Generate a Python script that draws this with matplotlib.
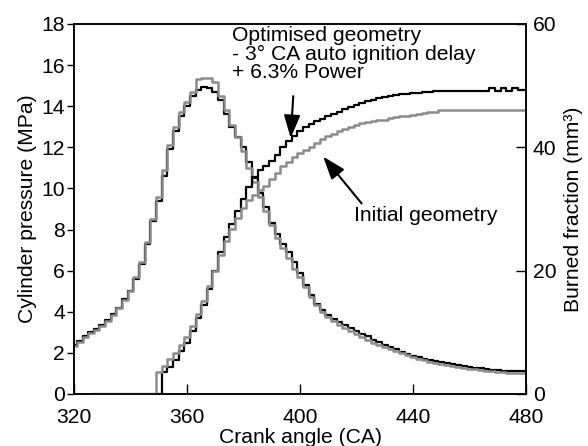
import numpy as np
import matplotlib
matplotlib.use('Agg')
import matplotlib.pyplot as plt

plt.rcParams['font.family'] = ['Liberation Sans', 'DejaVu Sans']

# crank angle samples (deg CA)
crank = [320, 322, 324, 326, 328, 330, 332, 334, 336, 338,
         340, 342, 344, 346, 348, 350, 352, 354, 356, 358,
         360, 362, 364, 366, 368, 370, 372, 374, 376, 378,
         380, 382, 384, 386, 388, 390, 392, 394, 396, 398,
         400, 402, 404, 406, 408, 410, 412, 414, 416, 418,
         420, 422, 424, 426, 428, 430, 432, 434, 436, 438,
         440, 442, 444, 446, 448, 450, 452, 454, 456, 458,
         460, 462, 464, 466, 468, 470, 472, 474, 476, 478, 480]

# cylinder pressure (MPa), optimised geometry
p_opt = [2.38, 2.6, 2.8, 3.0, 3.15, 3.35, 3.6, 3.9, 4.2, 4.6,
         5.0, 5.6, 6.3, 7.3, 8.4, 9.4, 10.6, 11.9, 12.8, 13.5,
         14.0, 14.5, 14.8, 14.95, 14.9, 14.7, 14.3, 13.6, 13.0, 12.5,
         12.0, 11.3, 10.5, 9.8, 9.1, 8.3, 7.8, 7.3, 6.9, 6.4,
         5.9, 5.3, 4.8, 4.4, 4.1, 3.85, 3.65, 3.5, 3.35, 3.2,
         3.05, 2.9, 2.8, 2.65, 2.55, 2.4, 2.3, 2.2, 2.05, 1.95,
         1.85, 1.8, 1.7, 1.65, 1.6, 1.55, 1.5, 1.45, 1.4, 1.35,
         1.3, 1.28, 1.25, 1.2, 1.18, 1.15, 1.12, 1.1, 1.1, 1.1, 1.1]

# cylinder pressure (MPa), initial geometry
p_init = [2.35, 2.55, 2.75, 2.95, 3.1, 3.3, 3.55, 3.85, 4.2, 4.55,
          5.0, 5.7, 6.4, 7.4, 8.5, 9.6, 10.9, 12.1, 13.0, 13.7,
          14.2, 14.7, 15.3, 15.35, 15.35, 15.2, 14.5, 13.8, 13.1, 12.5,
          11.8, 11.0, 10.3, 9.6, 8.9, 8.2, 7.6, 7.1, 6.6, 6.1,
          5.7, 5.2, 4.7, 4.35, 4.0, 3.75, 3.55, 3.35, 3.2, 3.05,
          2.9, 2.75, 2.65, 2.5, 2.4, 2.3, 2.2, 2.1, 2.0, 1.9,
          1.8, 1.72, 1.65, 1.58, 1.52, 1.47, 1.42, 1.38, 1.33, 1.28,
          1.24, 1.2, 1.17, 1.14, 1.1, 1.08, 1.06, 1.04, 1.02, 1.0, 1.0]

nan = np.nan
# burned fraction (mm3), optimised geometry
b_opt = [nan, nan, nan, nan, 0, 0, 0, 0, 0, 0,
         0, 0, 0, 0, 0, 0, 3.6, 4.3, 5.5, 7.0,
         8.3, 10.2, 12.3, 14.4, 17.0, 20.0, 23.0, 25.5, 27.6, 29.6,
         31.6, 33.6, 35.2, 36.3, 36.9, 37.8, 38.8, 40.0, 41.0, 41.8,
         42.6, 43.3, 43.8, 44.2, 44.6, 45.0, 45.4, 45.8, 46.2, 46.6,
         46.9, 47.2, 47.5, 47.7, 48.0, 48.2, 48.3, 48.5, 48.6, 48.7,
         48.8, 48.8, 48.9, 49.0, 49.1, 49.1, 49.1, 49.2, 49.2, 49.2,
         49.2, 49.2, 49.2, 49.2, 49.6, 49.2, 49.6, 49.2, 49.6, 49.3, 49.3]

# burned fraction (mm3), initial geometry
b_init = [nan, nan, nan, nan, 0, 0, 0, 0, 0, 0,
          0, 0, 0, 0, 0, 3.5, 4.6, 5.6, 6.6, 7.9,
          9.3, 11.0, 13.0, 15.0, 17.5, 20.0, 22.5, 24.8, 26.8, 28.6,
          30.2, 31.4, 32.3, 33.0, 33.8, 34.8, 35.9, 36.9, 37.7, 38.4,
          39.0, 39.6, 40.1, 40.7, 41.3, 41.8, 42.2, 42.6, 43.0, 43.3,
          43.6, 43.9, 44.1, 44.3, 44.4, 44.5, 44.7, 44.9, 45.0, 45.1,
          45.2, 45.4, 45.6, 45.7, 45.8, 46.0, 46.0, 46.0, 46.0, 46.0,
          46.0, 46.0, 46.0, 46.0, 46.0, 46.0, 46.0, 46.0, 46.0, 46.0, 46.0]

grey = '#8c8c8c'
fs = 15.2

fig = plt.figure(figsize=(5.88, 4.46), dpi=100)
ax = fig.add_axes([0.1259, 0.1166, 0.7687, 0.8296])
ax2 = ax.twinx()

ax.plot(crank, p_opt, color='k', lw=1.6, drawstyle='steps-mid')
ax.plot(crank, p_init, color=grey, lw=1.8, drawstyle='steps-mid')
ax2.plot(crank, b_opt, color='k', lw=1.6, drawstyle='steps-mid')
ax2.plot(crank, b_init, color=grey, lw=1.8, drawstyle='steps-mid')

ax.set_xlim(320, 480)
ax.set_ylim(0, 18)
ax2.set_ylim(0, 60)
ax.set_xticks([320, 360, 400, 440, 480])
ax.set_yticks(range(0, 19, 2))
ax2.set_yticks([0, 20, 40, 60])

ax.tick_params(axis='x', direction='in', length=7, width=1, labelsize=fs, pad=10)
ax.tick_params(axis='y', direction='out', length=5, width=1, labelsize=fs, pad=1.5)
ax2.tick_params(axis='y', direction='in', length=7, width=1, labelsize=fs, pad=5)
for a in (ax, ax2):
    for s in a.spines.values():
        s.set_linewidth(1.1)

ax.set_xlabel('Crank angle (CA)', fontsize=fs, labelpad=1)
ax.set_ylabel('Cylinder pressure (MPa)', fontsize=fs, labelpad=3)
ax2.set_ylabel('Burned fraction (mm³)', fontsize=fs, labelpad=5)

ax2.text(375.8, 59.6, 'Optimised geometry\n- 3° CA auto ignition delay\n+ 6.3% Power',
         fontsize=fs, va='top', ha='left', linespacing=0.95)
ax2.text(444.5, 29.0, 'Initial geometry', fontsize=fs, va='center', ha='center')

arrow = dict(arrowstyle='-|>,head_length=0.7,head_width=0.25', color='k', lw=1.5,
             mutation_scale=20, shrinkA=0, shrinkB=0)
ax2.annotate('', xy=(396.7, 41.5), xytext=(397.6, 48.3), arrowprops=arrow)
ax2.annotate('', xy=(408.2, 38.5), xytext=(421.8, 30.9), arrowprops=arrow)

fig.savefig('out.png', dpi=100)
